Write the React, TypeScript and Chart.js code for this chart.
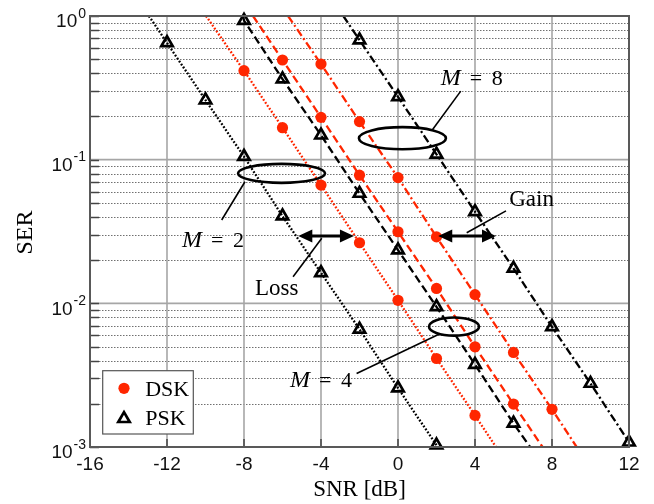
import React, { useEffect, useRef } from 'react';
import { Chart, registerables } from 'chart.js';

Chart.register(...registerables);

// ---------- axis ticks ----------
const xTicks = [-16, -12, -8, -4, 0, 4, 8, 12];
const xTickLabels = ['-16', '-12', '-8', '-4', '0', '4', '8', '12'];
const yDecades = [1e-3, 1e-2, 1e-1, 1];
const yExponents = ['-3', '-2', '-1', '0'];
const yMinorMultipliers = [2, 3, 4, 5, 6, 7, 8, 9];

// ---------- data (SNR in dB, SER) ----------
// markers
const snrPskM2 = [-12, -10, -8, -6, -4, -2, 0, 2];
const serPskM2 = [0.65, 0.26, 0.105, 0.0405, 0.0163, 0.0066, 0.00257, 0.00103];
const snrDskM2 = [-8, -6, -4, -2, 0, 2, 4];
const serDskM2 = [0.416, 0.167, 0.0665, 0.0264, 0.0105, 0.00413, 0.00166];
const snrPskM4 = [-8, -6, -4, -2, 0, 2, 4, 6];
const serPskM4 = [0.93, 0.364, 0.148, 0.0582, 0.0235, 0.00946, 0.00375, 0.00146];
const snrDskM4 = [-6, -4, -2, 0, 2, 4, 6];
const serDskM4 = [0.494, 0.197, 0.078, 0.0315, 0.0127, 0.00498, 0.00199];
const snrDskM8 = [-4, -2, 0, 2, 4, 6, 8];
const serDskM8 = [0.463, 0.184, 0.075, 0.029, 0.0115, 0.00455, 0.00183];
const snrPskM8 = [-2, 0, 2, 4, 6, 8, 10, 12];
const serPskM8 = [0.68, 0.274, 0.109, 0.0434, 0.0175, 0.00686, 0.00277, 0.00108];
// SNR where each curve crosses SER = 1 (top) and SER = 1e-3 (bottom)
const endsPskM2 = [-12.94, 2.05];
const endsDskM2 = [-9.97, 5.09];
const endsPskM4 = [-8.05, 6.86];
const endsDskM4 = [-7.53, 7.51];
const endsDskM8 = [-5.71, 9.28];
const endsPskM8 = [-2.84, 12.1];

// ---------- annotations (data coordinates) ----------
const ellipses = [
  { cx: -6.05, cy: 0.0803, rxDb: 2.26, ryDec: 0.066 },
  { cx: 0.23, cy: 0.141, rxDb: 2.26, ryDec: 0.077 },
  { cx: 2.91, cy: 0.00689, rxDb: 1.3, ryDec: 0.063 },
];
const pointers = [
  { x1: -7.95, y1: 0.0702, x2: -9.16, y2: 0.038 },
  { x1: 1.78, y1: 0.161, x2: 3.26, y2: 0.30 },
  { x1: -2.15, y1: 0.00325, x2: 2.18, y2: 0.00615 },
  { x1: -5.45, y1: 0.0153, x2: -3.96, y2: 0.0284 },
  { x1: 3.57, y1: 0.031, x2: 5.61, y2: 0.044 },
];
const arrows = [
  { x1: -5.18, x2: -2.29, y: 0.0294 },
  { x1: 2.09, x2: 5.09, y: 0.0294 },
];
const mLabels = [
  { value: '2', x: -11.22, y: 0.0246 },
  { value: '4', x: -5.61, y: 0.00262 },
  { value: '8', x: 2.22, y: 0.331 },
];
const wordLabels = [
  { text: 'Loss', x: -7.43, y: 0.0114 },
  { text: 'Gain', x: 5.78, y: 0.0478 },
];
const legendItems = ['DSK', 'PSK'];

const RED = '#ff2600';
const BLACK = '#000000';
const SERIF = "'Liberation Serif', 'Times New Roman', serif";
const SANS = "'Liberation Sans', Arial, sans-serif";

const DOT = [1.8, 1.8];
const DASH = [8, 4];
const DASHDOT = [8, 3, 2, 3];

type Curve = { snr: number[]; ser: number[]; ends: number[]; color: string; dash: number[]; kind: 'dsk' | 'psk' };
const curves: Curve[] = [
  { snr: snrPskM2, ser: serPskM2, ends: endsPskM2, color: BLACK, dash: DOT, kind: 'psk' },
  { snr: snrDskM2, ser: serDskM2, ends: endsDskM2, color: RED, dash: DOT, kind: 'dsk' },
  { snr: snrPskM4, ser: serPskM4, ends: endsPskM4, color: BLACK, dash: DASH, kind: 'psk' },
  { snr: snrDskM4, ser: serDskM4, ends: endsDskM4, color: RED, dash: DASH, kind: 'dsk' },
  { snr: snrDskM8, ser: serDskM8, ends: endsDskM8, color: RED, dash: DASHDOT, kind: 'dsk' },
  { snr: snrPskM8, ser: serPskM8, ends: endsPskM8, color: BLACK, dash: DASHDOT, kind: 'psk' },
];

const TRI_R = 6.6;
const TRI_W = 2.7;

function buildDatasets() {
  const ds: any[] = [];
  curves.forEach((c) => {
    const pts = c.snr.map((x, i) => ({ x, y: c.ser[i] }));
    ds.push({
      data: [{ x: c.ends[0], y: 1 }, ...pts, { x: c.ends[1], y: 1e-3 }],
      showLine: true,
      borderColor: c.color,
      borderWidth: 2.3,
      borderDash: c.dash,
      pointRadius: 0,
      fill: false,
      order: 2,
    });
    ds.push({
      data: pts,
      showLine: false,
      clip: false,
      order: 1,
      pointStyle: c.kind === 'dsk' ? 'circle' : 'triangle',
      pointRadius: c.kind === 'dsk' ? 5.6 : TRI_R,
      backgroundColor: c.kind === 'dsk' ? RED : 'rgba(255,255,255,0)',
      borderColor: c.kind === 'dsk' ? RED : BLACK,
      borderWidth: c.kind === 'dsk' ? 0 : TRI_W,
    });
  });
  return ds;
}

function drawTriangle(ctx: CanvasRenderingContext2D, x: number, y: number, r: number) {
  ctx.beginPath();
  ctx.moveTo(x, y - r);
  ctx.lineTo(x + 0.866 * r, y + 0.5 * r);
  ctx.lineTo(x - 0.866 * r, y + 0.5 * r);
  ctx.closePath();
  ctx.stroke();
}

function arrowHead(ctx: CanvasRenderingContext2D, tipX: number, y: number, dir: number) {
  const L = 14, W = 6.5;
  ctx.beginPath();
  ctx.moveTo(tipX, y);
  ctx.lineTo(tipX - dir * L, y - W);
  ctx.lineTo(tipX - dir * L, y + W);
  ctx.closePath();
  ctx.fill();
}

const customPlugin = {
  id: 'customDraw',
  beforeDatasetsDraw(chart: any) {
    const { ctx, chartArea: ca, scales } = chart;
    const xs = scales.x, ys = scales.y;
    ctx.save();
    // minor dotted horizontal grid
    ctx.strokeStyle = '#707070';
    ctx.lineWidth = 1;
    ctx.setLineDash([1.5, 1.5]);
    yDecades.slice(0, 3).forEach((d) => {
      yMinorMultipliers.forEach((m) => {
        const y = Math.round(ys.getPixelForValue(d * m)) + 0.5;
        ctx.beginPath();
        ctx.moveTo(ca.left, y);
        ctx.lineTo(ca.right, y);
        ctx.stroke();
      });
    });
    // major solid grid
    ctx.setLineDash([]);
    ctx.strokeStyle = '#a6a6a6';
    ctx.lineWidth = 1.6;
    yDecades.forEach((d) => {
      const y = ys.getPixelForValue(d);
      ctx.beginPath();
      ctx.moveTo(ca.left, y);
      ctx.lineTo(ca.right, y);
      ctx.stroke();
    });
    xTicks.forEach((t) => {
      const x = xs.getPixelForValue(t);
      ctx.beginPath();
      ctx.moveTo(x, ca.top);
      ctx.lineTo(x, ca.bottom);
      ctx.stroke();
    });
    ctx.restore();
  },
  afterDatasetsDraw(chart: any) {
    const { ctx, chartArea: ca, scales } = chart;
    const xs = scales.x, ys = scales.y;
    const pxPerDb = xs.getPixelForValue(1) - xs.getPixelForValue(0);
    const pxPerDec = (ys.getPixelForValue(1e-3) - ys.getPixelForValue(1)) / 3;
    ctx.save();

    // tick marks
    ctx.strokeStyle = '#444';
    ctx.lineWidth = 1.5;
    yDecades.forEach((d, i) => {
      const vals = [d];
      if (i < 3) yMinorMultipliers.forEach((m) => vals.push(d * m));
      vals.forEach((v) => {
        const y = Math.round(ys.getPixelForValue(v)) + 0.5;
        ctx.beginPath();
        ctx.moveTo(ca.left, y);
        ctx.lineTo(ca.left + 9, y);
        ctx.stroke();
      });
    });
    xTicks.forEach((t) => {
      const x = xs.getPixelForValue(t);
      ctx.beginPath();
      ctx.moveTo(x, ca.bottom);
      ctx.lineTo(x, ca.bottom - 8);
      ctx.stroke();
    });

    // axes box
    ctx.strokeStyle = '#595959';
    ctx.lineWidth = 2;
    ctx.strokeRect(ca.left, ca.top, ca.right - ca.left, ca.bottom - ca.top);

    // ellipses
    ctx.strokeStyle = BLACK;
    ctx.lineWidth = 2.6;
    ellipses.forEach((e) => {
      ctx.beginPath();
      ctx.ellipse(xs.getPixelForValue(e.cx), ys.getPixelForValue(e.cy), e.rxDb * pxPerDb, e.ryDec * pxPerDec, 0, 0, Math.PI * 2);
      ctx.stroke();
    });

    // pointer lines
    ctx.lineWidth = 1.6;
    pointers.forEach((p) => {
      ctx.beginPath();
      ctx.moveTo(xs.getPixelForValue(p.x1), ys.getPixelForValue(p.y1));
      ctx.lineTo(xs.getPixelForValue(p.x2), ys.getPixelForValue(p.y2));
      ctx.stroke();
    });

    // double arrows
    ctx.fillStyle = BLACK;
    ctx.lineWidth = 3;
    arrows.forEach((a) => {
      const x1 = xs.getPixelForValue(a.x1), x2 = xs.getPixelForValue(a.x2), y = ys.getPixelForValue(a.y);
      ctx.beginPath();
      ctx.moveTo(x1 + 10, y);
      ctx.lineTo(x2 - 10, y);
      ctx.stroke();
      arrowHead(ctx, x1, y, -1);
      arrowHead(ctx, x2, y, 1);
    });

    // labels
    ctx.fillStyle = BLACK;
    ctx.textBaseline = 'alphabetic';
    ctx.textAlign = 'left';
    mLabels.forEach((m) => {
      const x = xs.getPixelForValue(m.x), y = ys.getPixelForValue(m.y);
      ctx.font = `italic 24px ${SERIF}`;
      ctx.fillText('M', x, y);
      ctx.font = `22px ${SERIF}`;
      ctx.fillText('=', x + 29, y);
      ctx.fillText(m.value, x + 51, y);
    });
    ctx.font = `23px ${SERIF}`;
    wordLabels.forEach((w) => {
      ctx.fillText(w.text, xs.getPixelForValue(w.x), ys.getPixelForValue(w.y));
    });

    // legend
    const lx = ca.left + 12.7, ly = ca.bottom - 13 - 63.3;
    ctx.fillStyle = '#ffffff';
    ctx.fillRect(lx, ly, 90.6, 63.3);
    ctx.strokeStyle = '#555';
    ctx.lineWidth = 1.2;
    ctx.strokeRect(lx, ly, 90.6, 63.3);
    ctx.fillStyle = RED;
    ctx.beginPath();
    ctx.arc(lx + 21.3, ly + 17.6, 5.6, 0, Math.PI * 2);
    ctx.fill();
    ctx.strokeStyle = BLACK;
    ctx.lineWidth = TRI_W;
    drawTriangle(ctx, lx + 21.3, ly + 48, TRI_R);
    ctx.fillStyle = BLACK;
    ctx.font = `22px ${SERIF}`;
    ctx.fillText(legendItems[0], lx + 42.5, ly + 25.5);
    ctx.fillText(legendItems[1], lx + 42.5, ly + 54.5);

    // x tick labels
    ctx.fillStyle = '#111';
    ctx.font = `19px ${SANS}`;
    ctx.textAlign = 'center';
    xTicks.forEach((t, i) => {
      ctx.fillText(xTickLabels[i], xs.getPixelForValue(t), ca.bottom + 22.5);
    });

    // y tick labels 10^k
    ctx.textAlign = 'right';
    yDecades.forEach((d, i) => {
      const y = ys.getPixelForValue(d);
      ctx.font = `14px ${SANS}`;
      const ex = ca.left - 4;
      ctx.fillText(yExponents[i], ex, y + 1.8);
      const w = ctx.measureText(yExponents[i]).width;
      ctx.font = `19px ${SANS}`;
      ctx.fillText('10', ex - w - 1, y + 11.3);
    });

    // axis titles
    ctx.fillStyle = BLACK;
    ctx.textAlign = 'center';
    ctx.font = `23px ${SERIF}`;
    ctx.fillText('SNR [dB]', (ca.left + ca.right) / 2, 496);
    ctx.save();
    ctx.translate(32, (ca.top + ca.bottom) / 2 + 1);
    ctx.rotate(-Math.PI / 2);
    ctx.font = `24px ${SERIF}`;
    ctx.fillText('SER', 0, 0);
    ctx.restore();

    ctx.restore();
  },
};

export default function App() {
  const ref = useRef<HTMLCanvasElement | null>(null);
  useEffect(() => {
    if (!ref.current) return;
    const chart = new Chart(ref.current, {
      type: 'scatter',
      data: { datasets: buildDatasets() },
      options: {
        responsive: false,
        maintainAspectRatio: false,
        animation: false,
        layout: { padding: { left: 90, top: 16, right: 25, bottom: 57 } },
        scales: {
          x: { type: 'linear', min: -16, max: 12, display: false },
          y: { type: 'logarithmic', min: 1e-3, max: 1, display: false },
        },
        plugins: { legend: { display: false }, tooltip: { enabled: false } },
      },
      plugins: [customPlugin],
    });
    return () => chart.destroy();
  }, []);
  return (
    <div style={{ position: 'absolute', left: 0, top: 0, width: 654, height: 504, background: '#fff' }}>
      <canvas ref={ref} width={654} height={504} style={{ display: 'block', width: 654, height: 504 }} />
    </div>
  );
}
